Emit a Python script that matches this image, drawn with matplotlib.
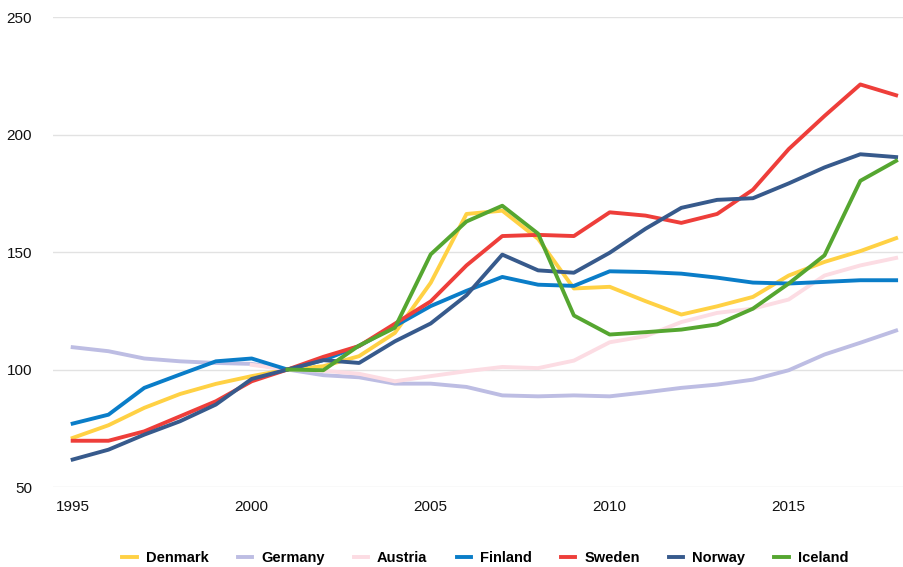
import numpy as np
import matplotlib.pyplot as plt
from matplotlib import font_manager

plt.rcParams['font.family'] = ['Liberation Sans', 'DejaVu Sans']

# Index values (2001 = 100)
years = list(range(1995, 2019))
years_austria = list(range(2000, 2019))
years_iceland = list(range(2001, 2019))

denmark = [70.9, 76.3, 83.7, 89.6, 93.9, 97.2, 100, 101.4, 105.7, 115.6, 136.9, 166.2,
           167.6, 155.6, 134.5, 135.2, 129.1, 123.4, 126.9, 130.9, 140.0, 145.8, 150.4, 155.9]
germany = [109.5, 107.8, 104.7, 103.5, 102.8, 102.4, 100, 97.6, 96.7, 94.0, 94.0, 92.6,
           89.0, 88.6, 89.0, 88.6, 90.3, 92.2, 93.6, 95.7, 99.7, 106.4, 111.4, 116.6]
austria = [102.0, 100, 99.5, 98.2, 95.0, 97.2, 99.3, 101.1, 100.6, 103.8, 111.6, 114.2,
           120.2, 124.1, 125.9, 129.8, 140.0, 144.3, 147.5]
finland = [77.0, 80.8, 92.2, 97.9, 103.5, 104.7, 100, 104.0, 110.0, 118.5, 127.0, 133.5,
           139.4, 136.1, 135.6, 141.8, 141.5, 140.8, 139.1, 137.0, 136.6, 137.3, 138.0, 138.0]
sweden = [69.7, 69.7, 73.7, 80.1, 86.5, 95.0, 100, 105.4, 110.0, 119.5, 129.0, 144.3,
          156.8, 157.3, 156.8, 166.9, 165.5, 162.4, 166.2, 176.5, 193.8, 207.9, 221.3, 216.7]
norway = [61.7, 65.9, 72.3, 78.0, 85.1, 96.0, 100, 104.0, 102.8, 112.0, 119.6, 131.6,
          148.9, 142.2, 141.2, 149.7, 159.9, 168.8, 172.2, 172.9, 179.2, 186.0, 191.6, 190.4]
iceland = [100, 99.7, 110.2, 117.8, 149.0, 163.0, 169.7, 157.8, 123.0, 114.9, 115.9,
           117.0, 119.2, 125.9, 136.6, 148.6, 180.3, 188.8]

fig = plt.figure(figsize=(9.04, 5.67), dpi=100)
ax = fig.add_axes([0.0586, 0.141, 0.9414, 0.829])

lw = 2.8
ax.plot(years, denmark, color='#ffd144', lw=lw, label='Denmark')
ax.plot(years, germany, color='#bdbde3', lw=lw, label='Germany')
ax.plot(years_austria, austria, color='#fcdce3', lw=lw, label='Austria')
ax.plot(years, finland, color='#0a7dc8', lw=lw, label='Finland')
ax.plot(years, sweden, color='#ee3e3a', lw=lw, label='Sweden')
ax.plot(years, norway, color='#375a8c', lw=lw, label='Norway')
ax.plot(years_iceland, iceland, color='#55a630', lw=lw, label='Iceland')

ax.set_ylim(50, 250)
ax.set_xlim(1994.45, 2018.22)
ax.set_yticks([50, 100, 150, 200, 250])
ax.set_xticks([1995, 2000, 2005, 2010, 2015])
ax.yaxis.grid(True, color='#e2e2e2', lw=1)
ax.set_axisbelow(True)
for s in ax.spines.values():
    s.set_visible(False)
ax.tick_params(length=0, labelsize=11, colors='#111111')
ax.tick_params(axis='y', pad=15)
ax.tick_params(axis='x', pad=9)

leg_font = font_manager.FontProperties(family=['Liberation Sans Narrow', 'Liberation Sans'],
                                       weight='bold', size=10.5)
ax.legend(loc='center', bbox_to_anchor=(0.508, -0.152), ncol=7, frameon=False,
          prop=leg_font, handlelength=1.0, handletextpad=0.6, columnspacing=2.0)

fig.savefig('out.png', dpi=100)
